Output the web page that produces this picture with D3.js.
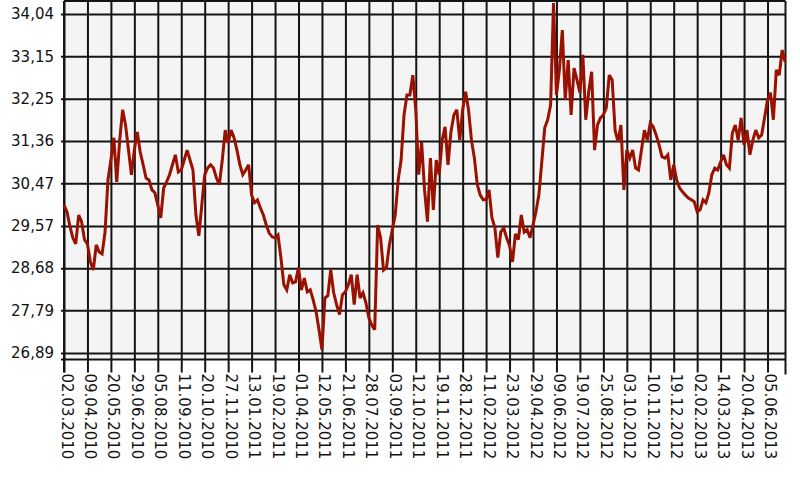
<!DOCTYPE html>
<html><head><meta charset="utf-8">
<script src="https://cdn.jsdelivr.net/npm/d3@7"></script>
<style>html,body{margin:0;padding:0;background:#fff;}svg{display:block;}</style>
</head><body>
<svg id="c" width="800" height="480"></svg>
<script>
const dateLabels = ["02.03.2010","09.04.2010","20.05.2010","29.06.2010","05.08.2010","11.09.2010","20.10.2010","27.11.2010","13.01.2011","19.02.2011","01.04.2011","12.05.2011","21.06.2011","28.07.2011","03.09.2011","12.10.2011","19.11.2011","28.12.2011","11.02.2012","23.03.2012","29.04.2012","09.06.2012","19.07.2012","25.08.2012","03.10.2012","10.11.2012","19.12.2012","02.02.2013","14.03.2013","20.04.2013","05.06.2013"];
const yTickValues = [26.89, 27.79, 28.68, 29.57, 30.47, 31.36, 32.25, 33.15, 34.04];
const yTickLabels = ["26,89","27,79","28,68","29,57","30,47","31,36","32,25","33,15","34,04"];
const pointsPerLabel = 8;
const rates = [
30.01,29.87,29.57,29.32,29.19,29.80,29.66,29.28,29.19,28.81,
28.64,29.17,29.02,28.98,29.44,30.54,30.96,31.43,30.50,31.38,
32.02,31.70,31.17,30.65,31.17,31.55,31.13,30.86,30.58,30.54,
30.33,30.27,30.01,29.74,30.37,30.50,30.65,30.86,31.07,30.71,
30.75,30.96,31.17,30.96,30.75,29.80,29.36,30.01,30.65,30.79,
30.86,30.79,30.58,30.44,30.96,31.59,31.32,31.59,31.43,31.17,
30.86,30.65,30.75,30.86,30.22,30.06,30.12,29.95,29.80,29.59,
29.42,29.34,29.32,29.38,28.90,28.33,28.22,28.54,28.37,28.39,
28.69,28.22,28.47,28.18,28.22,28.01,27.76,27.38,26.96,28.05,
28.10,28.64,28.16,27.91,27.70,28.12,28.18,28.33,28.54,27.91,
28.54,28.05,28.16,27.95,27.63,27.48,27.38,29.59,29.32,28.64,
28.69,29.17,29.49,29.80,30.54,30.96,31.91,32.33,32.33,32.75,
32.02,30.65,31.34,30.33,29.66,31.00,29.91,30.96,30.65,31.38,
31.66,30.86,31.55,31.91,32.02,31.38,32.02,32.40,32.02,31.38,
31.00,30.44,30.22,30.12,30.12,30.33,29.74,29.53,28.90,29.44,
29.53,29.32,29.15,28.81,29.40,29.28,29.80,29.44,29.49,29.32,
29.59,29.87,30.22,30.92,31.64,31.81,32.12,34.27,32.33,32.86,
33.70,32.23,33.07,31.91,32.90,32.65,32.38,33.18,31.81,32.40,
32.82,31.17,31.70,31.85,31.91,32.06,32.75,32.65,31.59,31.34,
31.70,30.33,31.17,31.00,31.17,30.79,30.75,31.17,31.59,31.38,
31.74,31.66,31.49,31.28,31.03,31.00,31.07,30.54,30.86,30.54,
30.37,30.29,30.22,30.16,30.12,30.08,29.87,29.91,30.12,30.06,
30.27,30.65,30.79,30.75,30.92,31.07,30.86,30.79,31.53,31.70,
31.38,31.85,31.28,31.59,31.07,31.38,31.59,31.43,31.49,31.85,
32.23,32.38,31.81,32.86,32.75,33.28,33.03
];

const svg = d3.select("#c");
const L = 64, R = 785.5, T = 1, B = 359.5;
const x = d3.scaleLinear().domain([0, rates.length - 1]).range([L, 785.1]);
const y = d3.scaleLinear().domain([26.89, 34.04]).range([353, 14]);
const gridColor = "#141414";
const font = "DejaVu Sans, Verdana, sans-serif";

svg.append("rect").attr("x", L).attr("y", T).attr("width", R - L).attr("height", B - T).attr("fill", "#f4f4f4");

// horizontal grid + y axis
const yAxis = d3.axisLeft(y).tickValues(yTickValues).tickSize(-(R - L)).tickSizeOuter(0)
  .tickFormat((d, i) => yTickLabels[i]);
const gy = svg.append("g").attr("transform", `translate(${L},0)`).call(yAxis);
gy.select(".domain").remove();
gy.selectAll(".tick line").attr("stroke", gridColor).attr("stroke-width", 2).attr("x1", -3);
gy.selectAll(".tick text").attr("font-family", font).attr("font-size", 15).attr("fill", "#111").attr("x", -10);

// vertical grid + x axis
const tickIdx = dateLabels.map((d, i) => i * pointsPerLabel);
const xAxis = d3.axisBottom(x).tickValues(tickIdx).tickSizeOuter(0)
  .tickFormat((d, i) => dateLabels[i]);
const gx = svg.append("g").attr("transform", `translate(0,${B})`).call(xAxis);
gx.select(".domain").remove();
gx.selectAll(".tick line").attr("stroke", gridColor).attr("stroke-width", 2)
  .attr("y1", -(B - T)).attr("y2", 13);
gx.selectAll(".tick text")
  .attr("font-family", font).attr("font-size", 15).attr("fill", "#111")
  .attr("transform", "rotate(90)").attr("text-anchor", "start").attr("dy", null)
  .attr("x", 14).attr("y", 3);

// frame lines
svg.append("line").attr("x1", L).attr("x2", L).attr("y1", T).attr("y2", B + 13).attr("stroke", gridColor).attr("stroke-width", 2);
svg.append("line").attr("x1", R).attr("x2", R).attr("y1", T).attr("y2", B + 15).attr("stroke", gridColor).attr("stroke-width", 2);
svg.append("line").attr("x1", L).attr("x2", R).attr("y1", T).attr("y2", T).attr("stroke", gridColor).attr("stroke-width", 2);
svg.append("line").attr("x1", L - 3).attr("x2", R).attr("y1", B).attr("y2", B).attr("stroke", gridColor).attr("stroke-width", 2);

// series
const line = d3.line().x((d, i) => x(i)).y(d => y(d));
svg.append("path").datum(rates).attr("d", line).attr("fill", "none")
  .attr("stroke", "#991100").attr("stroke-width", 3).attr("stroke-linejoin", "miter").attr("stroke-miterlimit", 3);
</script>
</body></html>
